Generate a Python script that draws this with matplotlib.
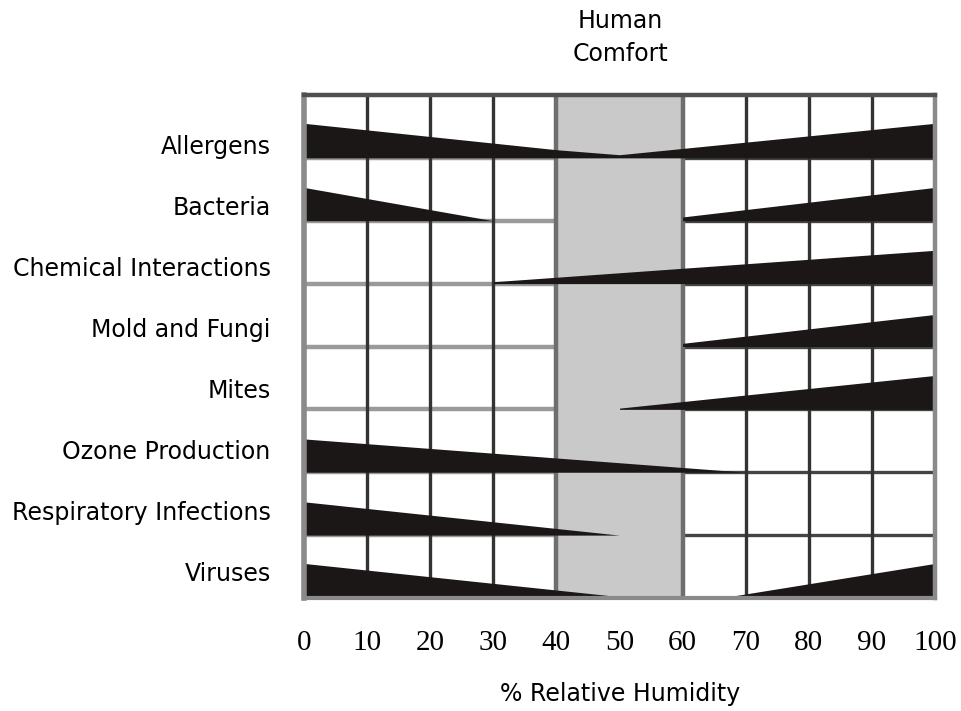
"""Humidity range chart: health hazards vs % relative humidity."""

import matplotlib
matplotlib.use("Agg")
import matplotlib.pyplot as plt
import numpy as np

# ---------------------------------------------------------------------------
# Data: each hazard wedge is a list of (humidity, thickness) break points.
# Thickness is a fraction of the row height.
# ---------------------------------------------------------------------------
categories = [
    "Allergens", "Bacteria", "Chemical Interactions", "Mold and Fungi",
    "Mites", "Ozone Production", "Respiratory Infections", "Viruses",
]

allergens_x = [0, 40, 50, 60, 100]
allergens_t = [0.55, 0.13, 0.05, 0.15, 0.55]

bacteria_left_x = [0, 30]
bacteria_left_t = [0.53, 0.0]
bacteria_right_x = [60, 100]
bacteria_right_t = [0.06, 0.53]

chemical_x = [30, 100]
chemical_t = [0.03, 0.53]

mold_x = [60, 100]
mold_t = [0.05, 0.51]

mites_x = [50, 100]
mites_t = [0.02, 0.54]

ozone_x = [0, 70]
ozone_t = [0.53, 0.0]

respiratory_x = [0, 50]
respiratory_t = [0.53, 0.0]

viruses_left_x = [0, 52]
viruses_left_t = [0.55, 0.0]
viruses_right_x = [66, 100]
viruses_right_t = [0.0, 0.55]

wedges = {
    "Allergens": [(allergens_x, allergens_t)],
    "Bacteria": [(bacteria_left_x, bacteria_left_t),
                 (bacteria_right_x, bacteria_right_t)],
    "Chemical Interactions": [(chemical_x, chemical_t)],
    "Mold and Fungi": [(mold_x, mold_t)],
    "Mites": [(mites_x, mites_t)],
    "Ozone Production": [(ozone_x, ozone_t)],
    "Respiratory Infections": [(respiratory_x, respiratory_t)],
    "Viruses": [(viruses_left_x, viruses_left_t),
                (viruses_right_x, viruses_right_t)],
}

humidity_ticks = [0, 10, 20, 30, 40, 50, 60, 70, 80, 90, 100]
comfort_zone = (40, 60)

BAR = "#1c1717"
BAND = "#c9c9c9"
SANS = "DejaVu Sans"
SERIF = "Liberation Serif"


def main() -> None:
    fig = plt.figure(figsize=(9.62, 7.11), dpi=100)
    ax = fig.add_axes([304 / 962, 1 - 598 / 711, 631 / 962, 503 / 711])
    n = len(categories)
    ax.set_xlim(0, 100)
    ax.set_ylim(0, n)

    # horizontal row lines (hidden behind the comfort band)
    for k in range(1, n):
        ax.hlines(k, 0, comfort_zone[0], color="#9a9a9a", lw=3.2, zorder=1)
        ax.hlines(k, comfort_zone[1], 100, color="#444444", lw=2.4, zorder=1)

    # comfort band
    ax.axvspan(*comfort_zone, color=BAND, zorder=2, lw=0)
    for xv in comfort_zone:
        ax.axvline(xv, color="#6e6e6e", lw=3.2, zorder=3)

    # vertical grid lines
    for xv in humidity_ticks[1:-1]:
        if comfort_zone[0] <= xv <= comfort_zone[1]:
            continue
        ax.axvline(xv, color="#333333", lw=2.4, zorder=3)

    # hazard wedges sitting on the bottom line of each row
    for i, name in enumerate(categories):
        base = n - 1 - i
        for xs, ts in wedges[name]:
            ax.fill_between(xs, base, [base + t for t in ts],
                            color=BAR, lw=0, zorder=4)

    # frame
    for side, col, lw in [("left", "#8a8a8a", 4.0), ("top", "#505050", 3.2),
                          ("right", "#8a8a8a", 3.2), ("bottom", "#8a8a8a", 3.0)]:
        ax.spines[side].set_color(col)
        ax.spines[side].set_linewidth(lw)
        ax.spines[side].set_zorder(5)

    ax.set_xticks(humidity_ticks)
    ax.set_xticklabels([str(v) for v in humidity_ticks],
                       family=SERIF, fontsize=21)
    # row labels sit a little below each row's middle
    ax.set_yticks(np.linspace(7.22, 0.42, n))
    ax.set_yticklabels(categories, family=SANS, fontsize=17)
    ax.tick_params(axis="both", length=0)
    ax.tick_params(axis="y", pad=24)
    ax.tick_params(axis="x", pad=23)

    fig.text(620 / 962, 1 - 21 / 711, "Human", ha="center",
             va="center", family=SANS, fontsize=17)
    fig.text(620 / 962, 1 - 54 / 711, "Comfort", ha="center",
             va="center", family=SANS, fontsize=17)
    fig.text(620 / 962, 1 - 694 / 711, "% Relative Humidity", ha="center",
             va="center", family=SANS, fontsize=17)

    fig.savefig("out.png", dpi=100, facecolor="white")


if __name__ == "__main__":
    main()
